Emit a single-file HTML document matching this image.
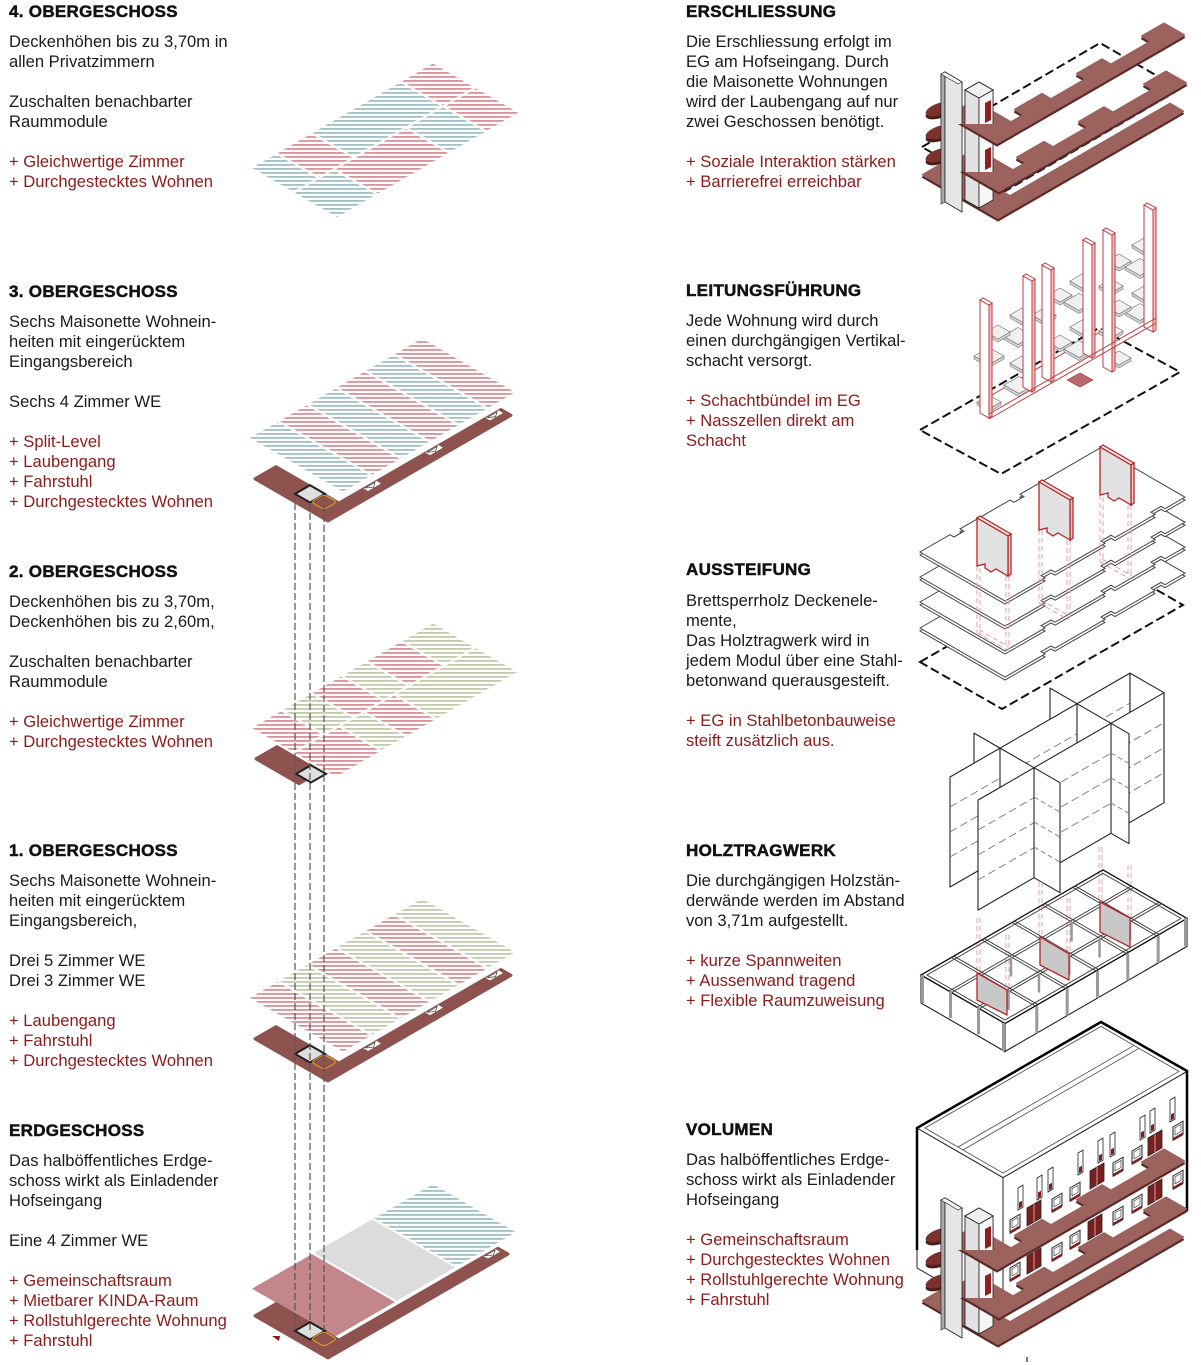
<!DOCTYPE html>
<html><head><meta charset="utf-8">
<style>
html,body{margin:0;padding:0;background:#fff}
#w{position:relative;width:1201px;height:1365px;overflow:hidden;background:#fff}
svg{position:absolute;left:0;top:0}
svg *{vector-effect:non-scaling-stroke}
.t{position:absolute;font-family:"Liberation Sans",Arial,sans-serif;font-size:16.6px;line-height:20px;color:#1a1a1a;white-space:nowrap}
.h{position:absolute;font-family:"Liberation Sans",Arial,sans-serif;font-weight:bold;font-size:17px;line-height:20px;letter-spacing:0.3px;color:#111;white-space:nowrap;-webkit-text-stroke:0.5px #111}
.r{color:#8b1a1a}
</style></head>
<body><div id="w">
<svg width="1201" height="1365" viewBox="0 0 1201 1365" xmlns="http://www.w3.org/2000/svg">
<defs>
<pattern id="pr" width="4" height="4" patternUnits="userSpaceOnUse" patternTransform="matrix(0.5,0.5,-0.866,0.866,0,0)"><rect width="4" height="1.9" fill="#d8949a"/></pattern>
<pattern id="pb" width="4" height="4" patternUnits="userSpaceOnUse" patternTransform="matrix(0.5,0.5,-0.866,0.866,0,0)"><rect width="4" height="1.9" fill="#a3c1c5"/></pattern>
<pattern id="pg" width="4" height="4" patternUnits="userSpaceOnUse" patternTransform="matrix(0.5,0.5,-0.866,0.866,0,0)"><rect width="4" height="1.9" fill="#c3cbae"/></pattern>

<g id="cor">
 <polygon points="0,0 183,0 183,-10 21,-10 21,-73 0,-73" fill="#8e524f" stroke="#8e524f" stroke-width="3" stroke-linejoin="round"/>
 <rect x="46" y="-10.5" width="13" height="4.5" fill="#fff"/>
 <polygon points="47,-10 52,-6.5 57,-10" fill="#fff" stroke="#333" stroke-width=".7"/>
 <rect x="108" y="-10.5" width="13" height="4.5" fill="#fff"/>
 <polygon points="109,-10 114,-6.5 119,-10" fill="#fff" stroke="#333" stroke-width=".7"/>
 <rect x="168" y="-10.5" width="13" height="4.5" fill="#fff"/>
 <polygon points="169,-10 174,-6.5 179,-10" fill="#fff" stroke="#333" stroke-width=".7"/>
 <rect x="7" y="-40" width="15" height="15" fill="#dedede" stroke="#222" stroke-width="2"/>
 <rect x="8" y="-25" width="13" height="13" rx="3" fill="none" stroke="#d39a2c" stroke-width="1.2"/>
</g>

<polygon id="jog" points="0,0 187,0 187,-20 165,-20 165,-11 125,-11 125,-20 100,-20 100,-11 65,-11 65,-20 38,-20 38,-11 25,-11 25,-48 0,-48"/>
<polygon id="bsl" points="0,0 185,0 185,-13 25,-13 25,-75 0,-75"/>

<g id="tw">
 <polygon points="941,74 945,72 945,202 941,204" fill="#aaa" stroke="#222" stroke-width=".6"/>
 <polygon points="945,72 962,82 962,212 945,202" fill="#e6e6e6" stroke="#222" stroke-width=".8"/>
 <polygon points="941,74 945,72 962,82 958,84" fill="#f5f5f5" stroke="#222" stroke-width=".6"/>
 <polygon points="965,90 979,98 979,208 965,200" fill="#e2e2e2" stroke="#222" stroke-width=".8"/>
 <polygon points="979,98 993,90 993,200 979,208" fill="#f6f6f6" stroke="#222" stroke-width=".8"/>
 <polygon points="965,90 979,82 993,90 979,98" fill="#f0f0f0" stroke="#222" stroke-width=".8"/>
 <polygon points="985,103 991,100 991,120 985,123" fill="#8b2020"/>
 <polygon points="985,150 991,147 991,167 985,170" fill="#8b2020"/>
</g>
<clipPath id="ca"><rect x="900" y="0" width="120" height="124"/></clipPath>
<clipPath id="cb"><rect x="900" y="0" width="120" height="172"/></clipPath>

<g id="ersch">
 <g>
  <ellipse cx="940" cy="112" rx="15" ry="6" transform="rotate(-18 940 112)" fill="#4d1b19"/>
  <ellipse cx="940" cy="109" rx="15" ry="6" transform="rotate(-18 940 109)" fill="#7b312e"/>
  <ellipse cx="940" cy="135" rx="15" ry="6" transform="rotate(-18 940 135)" fill="#4d1b19"/>
  <ellipse cx="940" cy="132" rx="15" ry="6" transform="rotate(-18 940 132)" fill="#7b312e"/>
  <ellipse cx="940" cy="158" rx="15" ry="6" transform="rotate(-18 940 158)" fill="#4d1b19"/>
  <ellipse cx="940" cy="155" rx="15" ry="6" transform="rotate(-18 940 155)" fill="#7b312e"/>
 </g>
 <g transform="translate(0,2.5)"><use href="#bsl" transform="matrix(1,-0.5774,1,0.5774,998,218)" fill="#5c2a27" stroke="#5c2a27" stroke-width="2" stroke-linejoin="round"/></g>
 <use href="#bsl" transform="matrix(1,-0.5774,1,0.5774,998,218)" fill="#9b625e" stroke="#9b625e" stroke-width="2" stroke-linejoin="round"/>
 <use href="#tw"/>
 <g transform="translate(0,2.5)"><use href="#jog" transform="matrix(1,-0.5774,1,0.5774,999,191)" fill="#5c2a27" stroke="#5c2a27" stroke-width="2" stroke-linejoin="round"/></g>
 <use href="#jog" transform="matrix(1,-0.5774,1,0.5774,999,191)" fill="#9b625e" stroke="#9b625e" stroke-width="2" stroke-linejoin="round"/>
 <use href="#tw" clip-path="url(#cb)"/>
 <g transform="translate(0,2.5)"><use href="#jog" transform="matrix(1,-0.5774,1,0.5774,997,143)" fill="#5c2a27" stroke="#5c2a27" stroke-width="2" stroke-linejoin="round"/></g>
 <use href="#jog" transform="matrix(1,-0.5774,1,0.5774,997,143)" fill="#9b625e" stroke="#9b625e" stroke-width="2" stroke-linejoin="round"/>
 <use href="#tw" clip-path="url(#ca)"/>
</g>

<polygon id="slabp" points="0,0 30,0 30,4 40,4 40,0 90,0 90,4 100,4 100,0 180,0 180,85 160,85 160,81 150,81 150,85 110,85 110,81 100,81 100,85 50,85 50,81 40,81 40,85 0,85"/>
<g id="slabA">
 <g transform="translate(0,3)"><use href="#slabp" transform="matrix(1,-0.5774,1,0.5774,920,552)" fill="#fff" stroke="#444" stroke-width="1"/></g>
 <use href="#slabp" transform="matrix(1,-0.5774,1,0.5774,920,552)" fill="#fff" stroke="#444" stroke-width="1"/>
</g>

<g id="gs"><polygon points="-12,0 -12,3 0,10 12,3 12,0 0,7" fill="#d4d4d4" stroke="#777" stroke-width=".6"/><polygon points="-12,0 0,-7 12,0 0,7" fill="#f0f0f0" stroke="#777" stroke-width=".7"/></g>
<g id="gsb"><polygon points="-15,0 -15,3 0,11.5 15,3 15,0 0,8.5" fill="#d4d4d4" stroke="#777" stroke-width=".6"/><polygon points="-15,0 0,-8.5 15,0 0,8.5" fill="#f0f0f0" stroke="#777" stroke-width=".7"/></g>

<g id="wt"><rect width="5" height="22" fill="#fff" stroke="#222" stroke-width=".8"/><rect x="1" y="15" width="3" height="6" fill="#7a1f1f"/></g>
<g id="ws"><rect width="10" height="13" fill="#fff" stroke="#222" stroke-width="1"/><rect x="2" y="2" width="6" height="7" fill="none" stroke="#222" stroke-width=".6"/><rect x="0" y="11" width="10" height="3" fill="#7a1f1f"/></g>
<g id="wd"><rect width="14" height="18" fill="#7a1f1f" stroke="#222" stroke-width=".8"/><line x1="7" y1="0" x2="7" y2="18" stroke="#fff" stroke-width=".6"/></g>
</defs>

<!-- 4.OG -->
<g transform="matrix(1,-0.5774,1,0.5774,252,168)">
 <rect x="0" y="0" width="24" height="41" fill="url(#pb)"/>
 <rect x="26" y="0" width="33" height="41" fill="url(#pr)"/>
 <rect x="61" y="0" width="87" height="41" fill="url(#pb)"/>
 <rect x="150" y="0" width="31" height="41" fill="url(#pr)"/>
 <rect x="0" y="43" width="39" height="42" fill="url(#pb)"/>
 <rect x="41" y="43" width="70" height="42" fill="url(#pr)"/>
 <rect x="113" y="43" width="35" height="42" fill="url(#pb)"/>
 <rect x="150" y="43" width="31" height="42" fill="url(#pr)"/>
</g>

<!-- 3.OG -->
<g transform="matrix(1,-0.5774,1,0.5774,328,521)">
 <rect x="33" y="-111" width="27.5" height="93" fill="url(#pb)"/>
 <rect x="62.5" y="-111" width="27" height="93" fill="url(#pr)"/>
 <rect x="91.5" y="-111" width="27" height="93" fill="url(#pb)"/>
 <rect x="120.5" y="-111" width="27" height="93" fill="url(#pr)"/>
 <rect x="149.5" y="-111" width="27" height="93" fill="url(#pb)"/>
 <rect x="178.5" y="-111" width="26.5" height="93" fill="url(#pr)"/>
 <use href="#cor"/>
</g>

<!-- 2.OG -->
<g transform="matrix(1,-0.5774,1,0.5774,252,728)">
 <rect x="0" y="0" width="29" height="41" fill="url(#pr)"/>
 <rect x="31" y="0" width="28" height="41" fill="url(#pg)"/>
 <rect x="61" y="0" width="28" height="41" fill="url(#pr)"/>
 <rect x="91" y="0" width="23" height="41" fill="url(#pg)"/>
 <rect x="116" y="0" width="33" height="41" fill="url(#pr)"/>
 <rect x="151" y="0" width="30" height="41" fill="url(#pg)"/>
 <rect x="0" y="43" width="44" height="41" fill="url(#pr)"/>
 <rect x="46" y="43" width="23" height="41" fill="url(#pg)"/>
 <rect x="71" y="43" width="28" height="41" fill="url(#pr)"/>
 <rect x="101" y="43" width="80" height="41" fill="url(#pg)"/>
</g>
<g transform="matrix(1,-0.5774,1,0.5774,329,801)">
 <polygon points="0,-30 21,-30 21,-73 0,-73" fill="#8e524f" stroke="#8e524f" stroke-width="3" stroke-linejoin="round"/>
 <rect x="7" y="-40" width="15" height="15" fill="#dedede" stroke="#222" stroke-width="2"/>
</g>

<!-- 1.OG -->
<g transform="matrix(1,-0.5774,1,0.5774,328,1081)">
 <rect x="33" y="-111" width="27.5" height="93" fill="url(#pr)"/>
 <rect x="62.5" y="-111" width="27" height="93" fill="url(#pg)"/>
 <rect x="91.5" y="-111" width="27" height="93" fill="url(#pr)"/>
 <rect x="120.5" y="-111" width="27" height="93" fill="url(#pg)"/>
 <rect x="149.5" y="-111" width="27" height="93" fill="url(#pr)"/>
 <rect x="178.5" y="-111" width="26.5" height="93" fill="url(#pg)"/>
 <use href="#cor"/>
</g>

<!-- EG -->
<g transform="matrix(1,-0.5774,1,0.5774,328,1358)">
 <rect x="22" y="-98" width="60" height="83" fill="#c3868a"/>
 <rect x="84" y="-98" width="58" height="83" fill="#dcdcdc"/>
 <rect x="144" y="-98" width="59" height="83" fill="url(#pb)"/>
 <polygon points="0,0 180,0 180,-10 21,-10 21,-73 0,-73" fill="#8e524f" stroke="#8e524f" stroke-width="3" stroke-linejoin="round"/>
 <rect x="166" y="-10.5" width="12" height="4.5" fill="#fff"/>
 <polygon points="167,-10 172,-6.5 177,-10" fill="#fff" stroke="#333" stroke-width=".7"/>
 <rect x="7" y="-40" width="15" height="15" fill="#dedede" stroke="#222" stroke-width="2"/>
 <rect x="8" y="-25" width="13" height="13" rx="3" fill="none" stroke="#d39a2c" stroke-width="1.2"/>
</g>
<polygon points="272,1336 280,1336 279,1341" fill="#8b1a1a"/>

<g stroke="#555" stroke-width="1.2" stroke-dasharray="7 3" fill="none">
 <line x1="295" y1="503" x2="295" y2="1330"/>
 <line x1="310" y1="503" x2="310" y2="1330"/>
 <line x1="324" y1="505" x2="324" y2="1330"/>
</g>

<!-- ERSCHLIESSUNG -->
<polygon points="922,147 1100,43 1180,89 1002,193" fill="none" stroke="#111" stroke-width="2" stroke-dasharray="9 4"/>
<use href="#ersch"/>

<!-- LEITUNGSFUEHRUNG -->
<polygon points="920,430 1099,328 1180,372 1001,474" fill="none" stroke="#111" stroke-width="2" stroke-dasharray="9 4"/>
<polygon points="1067,380 1080,373 1093,380 1080,387" fill="#b86a6a" stroke="#a03030" stroke-width=".6"/>
<line x1="992" y1="395" x2="1100" y2="332" stroke="#c0393c" stroke-width="1"/>
<use href="#gs" transform="translate(1022,315)"/>
<use href="#gsb" transform="translate(1018,336)"/>
<use href="#gs" transform="translate(998,332)"/>
<use href="#gsb" transform="translate(989,356)"/>
<use href="#gs" transform="translate(1022,363)"/>
<use href="#gsb" transform="translate(1019,385)"/>
<use href="#gs" transform="translate(989,402)"/>
<use href="#gs" transform="translate(1044,315)"/>
<use href="#gs" transform="translate(1060,295)"/>
<use href="#gsb" transform="translate(1079,302)"/>
<use href="#gs" transform="translate(1082,281)"/>
<use href="#gs" transform="translate(1082,327)"/>
<use href="#gs" transform="translate(1060,342)"/>
<use href="#gsb" transform="translate(1079,349)"/>
<use href="#gs" transform="translate(1111,286)"/>
<use href="#gs" transform="translate(1119,261)"/>
<use href="#gsb" transform="translate(1140,267)"/>
<use href="#gs" transform="translate(1144,245)"/>
<use href="#gs" transform="translate(1144,293)"/>
<use href="#gsb" transform="translate(1140,312)"/>
<use href="#gs" transform="translate(1119,307)"/>
<use href="#gs" transform="translate(1111,331)"/>
<use href="#gs" transform="translate(1119,358)"/>
<g stroke="#c0393c" stroke-width="1">
 <polygon points="980,300 989,305 989,418 980,413" fill="#fff"/>
 <polygon points="989,305 992,303 992,416 989,418" fill="#f0c4c4"/>
 <polygon points="980,300 983,298 992,303 989,305" fill="#fff"/>
 <polygon points="1023,276 1032,281 1032,392 1023,387" fill="#fff"/>
 <polygon points="1032,281 1035,279 1035,390 1032,392" fill="#f0c4c4"/>
 <polygon points="1023,276 1026,274 1035,279 1032,281" fill="#fff"/>
 <polygon points="1042,265 1051,270 1051,382 1042,377" fill="#fff"/>
 <polygon points="1051,270 1054,268 1054,380 1051,382" fill="#f0c4c4"/>
 <polygon points="1042,265 1045,263 1054,268 1051,270" fill="#fff"/>
 <polygon points="1083,240 1092,245 1092,358 1083,353" fill="#fff"/>
 <polygon points="1092,245 1095,243 1095,356 1092,358" fill="#f0c4c4"/>
 <polygon points="1083,240 1086,238 1095,243 1092,245" fill="#fff"/>
 <polygon points="1103,230 1112,235 1112,372 1103,367" fill="#fff"/>
 <polygon points="1112,235 1115,233 1115,370 1112,372" fill="#f0c4c4"/>
 <polygon points="1103,230 1106,228 1115,233 1112,235" fill="#fff"/>
 <polygon points="1144,205 1153,210 1153,332 1144,327" fill="#fff"/>
 <polygon points="1153,210 1156,208 1156,330 1153,332" fill="#f0c4c4"/>
 <polygon points="1144,205 1147,203 1156,208 1153,210" fill="#fff"/>
 <line x1="989" y1="414" x2="1156" y2="318"/>
 <line x1="989" y1="419" x2="1156" y2="323"/>
</g>

<!-- AUSSTEIFUNG -->
<polygon points="920,662 1101,558 1183,605 1002,709" fill="none" stroke="#111" stroke-width="2" stroke-dasharray="9 4"/>
<use href="#slabA" transform="translate(0,76)"/>
<use href="#slabA" transform="translate(0,50)"/>
<use href="#slabA" transform="translate(0,25)"/>
<use href="#slabA"/>
<g stroke="#e2a0a4" stroke-width="1" stroke-dasharray="5 3" fill="none">
 <line x1="977" y1="566" x2="977" y2="633"/><line x1="980" y1="568" x2="980" y2="634"/>
 <line x1="1006" y1="576" x2="1006" y2="650"/><line x1="1009" y1="576" x2="1009" y2="650"/>
 <line x1="977" y1="633" x2="1007" y2="650"/><line x1="979" y1="630" x2="1009" y2="647"/>
 <line x1="1039" y1="530" x2="1039" y2="603"/><line x1="1042" y1="530" x2="1042" y2="604"/>
 <line x1="1067" y1="540" x2="1067" y2="613"/><line x1="1070" y1="540" x2="1070" y2="613"/>
 <line x1="1039" y1="603" x2="1069" y2="620"/><line x1="1041" y1="600" x2="1071" y2="617"/>
 <line x1="1100" y1="495" x2="1100" y2="562"/><line x1="1103" y1="497" x2="1103" y2="563"/>
 <line x1="1128" y1="505" x2="1128" y2="577"/><line x1="1131" y1="505" x2="1131" y2="577"/>
 <line x1="1100" y1="562" x2="1130" y2="579"/><line x1="1102" y1="559" x2="1132" y2="576"/>
</g>
<g stroke="#b3262a" stroke-width="1.3">
 <polygon points="977,518 980,516 1011,534 1008,536" fill="#f7e4e4"/>
 <polygon points="1008,536 1011,534 1011,574 1008,576" fill="#f2d0d0"/>
 <polygon points="977,518 1008,536 1008,576 996,569 991,572 985,568 985,564 977,566" fill="#e2e2e2"/>
 <polygon points="1039,482 1042,480 1073,498 1070,500" fill="#f7e4e4"/>
 <polygon points="1070,500 1073,498 1073,538 1070,540" fill="#f2d0d0"/>
 <polygon points="1039,482 1070,500 1070,540 1058,533 1053,536 1047,532 1047,528 1039,530" fill="#e2e2e2"/>
 <polygon points="1100,447 1103,445 1134,463 1131,465" fill="#f7e4e4"/>
 <polygon points="1131,465 1134,463 1134,503 1131,505" fill="#f2d0d0"/>
 <polygon points="1100,447 1131,465 1131,505 1119,498 1114,501 1108,497 1108,493 1100,495" fill="#e2e2e2"/>
</g>

<!-- HOLZTRAGWERK walls -->
<g fill="#fff" stroke="#222" stroke-width="1.1" stroke-linejoin="round">
 <polygon points="1050,688.1 1077,703.7 1077,813.7 1050,798.1"/>
 <polygon points="974,733.1 1000,748.1 1000,858.1 974,843.1"/>
 <polygon points="950,777 1130,673.1 1130,783.1 950,887"/>
 <g fill="none" stroke="#777" stroke-width=".9" stroke-dasharray="8 4">
  <line x1="950" y1="807" x2="1130" y2="703.1"/><line x1="950" y1="832" x2="1130" y2="728.1"/><line x1="950" y1="857" x2="1130" y2="753.1"/>
 </g>
 <polygon points="1130,673.1 1164,692.7 1164,802.7 1130,783.1"/>
 <polygon points="1077,703.7 1111,723.3 1111,833.3 1077,813.7"/>
 <polygon points="1000,748.1 1034,767.7 1034,877.7 1000,858.1"/>
 <polygon points="978,800.1 1164,692.7 1164,802.7 978,910.1"/>
 <g fill="none" stroke="#777" stroke-width=".9" stroke-dasharray="8 4">
  <line x1="978" y1="830" x2="1164" y2="722.7"/><line x1="978" y1="855" x2="1164" y2="747.7"/><line x1="978" y1="880" x2="1164" y2="772.7"/>
 </g>
 <polygon points="1111,723.3 1129,733.7 1129,843.7 1111,833.3"/>
 <polygon points="1034,767.7 1060,782.7 1060,892.7 1034,877.7"/>
 <g fill="none" stroke="#777" stroke-width=".9" stroke-dasharray="5 3">
  <line x1="1034" y1="797" x2="1060" y2="812"/><line x1="1034" y1="822" x2="1060" y2="837"/><line x1="1034" y1="847" x2="1060" y2="862"/>
  <line x1="1111" y1="753" x2="1129" y2="763.4"/><line x1="1111" y1="778" x2="1129" y2="788.4"/><line x1="1111" y1="803" x2="1129" y2="813.4"/>
 </g>
</g>

<g stroke="#e2a0a4" stroke-width="1" stroke-dasharray="5 3" fill="none">
 <line x1="977" y1="918" x2="977" y2="973"/><line x1="980" y1="918" x2="980" y2="974"/>
 <line x1="1006" y1="935" x2="1006" y2="990"/><line x1="1009" y1="935" x2="1009" y2="990"/>
 <line x1="1039" y1="882" x2="1039" y2="937"/><line x1="1042" y1="882" x2="1042" y2="938"/>
 <line x1="1067" y1="898" x2="1067" y2="954"/><line x1="1070" y1="898" x2="1070" y2="954"/>
 <line x1="1099" y1="847" x2="1099" y2="902"/><line x1="1102" y1="847" x2="1102" y2="903"/>
 <line x1="1128" y1="865" x2="1128" y2="918"/><line x1="1131" y1="865" x2="1131" y2="918"/>
</g>

<!-- HOLZ tray -->
<polygon points="921,975 1005,1023.5 1005,1051.5 921,1003" fill="#fff" stroke="#222" stroke-width="1.1"/>
<polygon points="1005,1023.5 1187,918.4 1187,946.4 1005,1051.5" fill="#fff" stroke="#222" stroke-width="1.1"/>
<g transform="matrix(1,-0.5774,1,0.5774,921,975)" fill="none" stroke="#333" stroke-width=".9">
 <rect x="0" y="0" width="182" height="84" stroke-width="1.3" stroke="#111"/>
 <rect x="3" y="3" width="176" height="78"/>
 <line x1="0" y1="28" x2="182" y2="28"/><line x1="0" y1="30.5" x2="182" y2="30.5"/>
 <line x1="0" y1="56" x2="182" y2="56"/><line x1="0" y1="58.5" x2="182" y2="58.5"/>
 <line x1="30.3" y1="0" x2="30.3" y2="84"/><line x1="32.8" y1="0" x2="32.8" y2="84"/>
 <line x1="60.7" y1="0" x2="60.7" y2="84"/><line x1="63.2" y1="0" x2="63.2" y2="84"/>
 <line x1="91" y1="0" x2="91" y2="84"/><line x1="93.5" y1="0" x2="93.5" y2="84"/>
 <line x1="121.3" y1="0" x2="121.3" y2="84"/><line x1="123.8" y1="0" x2="123.8" y2="84"/>
 <line x1="151.7" y1="0" x2="151.7" y2="84"/><line x1="154.2" y1="0" x2="154.2" y2="84"/>
</g>
<g fill="#9a9a9a">
 <rect x="979.3" y="974" width="2.5" height="20"/><rect x="1009.7" y="956.5" width="2.5" height="20"/><rect x="1040" y="939" width="2.5" height="20"/><rect x="1070.3" y="921.5" width="2.5" height="20"/><rect x="1100.7" y="904" width="2.5" height="20"/>
 <rect x="1007.3" y="990" width="2.5" height="20"/><rect x="1037.7" y="972.5" width="2.5" height="20"/><rect x="1068" y="955" width="2.5" height="20"/><rect x="1098.3" y="937.5" width="2.5" height="20"/><rect x="1128.7" y="920" width="2.5" height="20"/>
 <rect x="1035.3" y="1006" width="3" height="27"/><rect x="1065.7" y="988.5" width="3" height="27"/><rect x="1096" y="971" width="3" height="27"/><rect x="1126.3" y="953.5" width="3" height="27"/><rect x="1156.7" y="936" width="3" height="27"/>
 <rect x="1002" y="1023" width="3" height="28"/><rect x="1184" y="918" width="3" height="28"/>
 <rect x="949" y="991.2" width="3" height="27"/><rect x="977" y="1007.3" width="3" height="27"/><rect x="921" y="975" width="3" height="28"/>
</g>
<g stroke="#b3262a" stroke-width="1.3" fill="#c8c8c8">
 <polygon points="977,973 1007,990 1007,1015 977,1000"/>
 <polygon points="1040,937 1069,954 1069,980 1040,965"/>
 <polygon points="1100,902 1130,918 1130,947 1100,932"/>
</g>

<!-- VOLUMEN -->
<polygon points="917,1128 1003,1177.6 1003,1317.6 917,1268" fill="#fff" stroke="#222" stroke-width="1"/>
<polygon points="1003,1177.6 1187,1071.4 1187,1211.4 1003,1317.6" fill="#fff" stroke="#222" stroke-width="1"/>
<polygon points="917,1128 1101,1021.8 1187,1071.4 1003,1177.6" fill="#fff" stroke="#222" stroke-width="1"/>
<g transform="matrix(1,-0.5774,1,0.5774,917,1128)" fill="none" stroke="#444" stroke-width=".8">
 <rect x="4" y="4" width="176" height="78"/>
 <line x1="4" y1="37" x2="180" y2="37"/>
 <line x1="4" y1="42" x2="180" y2="42"/>
</g>
<polyline points="917,1250 917,1128 1101,1022 1187,1071 1187,1211" fill="none" stroke="#000" stroke-width="2.5"/>
<use href="#wt" transform="translate(1018,1188) skewY(-30)"/>
<use href="#wt" transform="translate(1037,1178) skewY(-30)"/>
<use href="#wt" transform="translate(1048,1170) skewY(-30)"/>
<use href="#wt" transform="translate(1078,1153) skewY(-30)"/>
<use href="#wt" transform="translate(1098,1141) skewY(-30)"/>
<use href="#wt" transform="translate(1110,1135) skewY(-30)"/>
<use href="#wt" transform="translate(1140,1118) skewY(-30)"/>
<use href="#wt" transform="translate(1150,1111) skewY(-30)"/>
<use href="#wt" transform="translate(1170,1100) skewY(-30)"/>
<use href="#ws" transform="translate(1010,1220) skewY(-30)"/>
<use href="#ws" transform="translate(1052,1199) skewY(-30)"/>
<use href="#ws" transform="translate(1070,1188) skewY(-30)"/>
<use href="#ws" transform="translate(1113,1163) skewY(-30)"/>
<use href="#ws" transform="translate(1132,1151) skewY(-30)"/>
<use href="#ws" transform="translate(1173,1127) skewY(-30)"/>
<use href="#ws" transform="translate(1010,1268) skewY(-30)"/>
<use href="#ws" transform="translate(1052,1248) skewY(-30)"/>
<use href="#ws" transform="translate(1070,1236) skewY(-30)"/>
<use href="#ws" transform="translate(1113,1212) skewY(-30)"/>
<use href="#ws" transform="translate(1132,1200) skewY(-30)"/>
<use href="#ws" transform="translate(1173,1176) skewY(-30)"/>
<use href="#wd" transform="translate(1027,1208) skewY(-30)"/>
<use href="#wd" transform="translate(1090,1171) skewY(-30)"/>
<use href="#wd" transform="translate(1148,1138) skewY(-30)"/>
<use href="#wd" transform="translate(1027,1256) skewY(-30)"/>
<use href="#wd" transform="translate(1088,1222) skewY(-30)"/>
<use href="#wd" transform="translate(1148,1187) skewY(-30)"/>
<use href="#ersch" transform="translate(0,1126)"/>
<line x1="1027" y1="1357" x2="1027" y2="1362" stroke="#222" stroke-width="1.2"/>
</svg>

<div class="h" style="left:9px;top:1.7px">4. OBERGESCHOSS</div>
<div class="t" style="left:9px;top:32.2px">Deckenhöhen bis zu 3,70m in<br>allen Privatzimmern<br><br>Zuschalten benachbarter<br>Raummodule<br><br><span class="r">+ Gleichwertige Zimmer<br>+ Durchgestecktes Wohnen</span></div>

<div class="h" style="left:9px;top:281.5px">3. OBERGESCHOSS</div>
<div class="t" style="left:9px;top:312px">Sechs Maisonette Wohnein-<br>heiten mit eingerücktem<br>Eingangsbereich<br><br>Sechs 4 Zimmer WE<br><br><span class="r">+ Split-Level<br>+ Laubengang<br>+ Fahrstuhl<br>+ Durchgestecktes Wohnen</span></div>

<div class="h" style="left:9px;top:561.5px">2. OBERGESCHOSS</div>
<div class="t" style="left:9px;top:592px">Deckenhöhen bis zu 3,70m,<br>Deckenhöhen bis zu 2,60m,<br><br>Zuschalten benachbarter<br>Raummodule<br><br><span class="r">+ Gleichwertige Zimmer<br>+ Durchgestecktes Wohnen</span></div>

<div class="h" style="left:9px;top:840.5px">1. OBERGESCHOSS</div>
<div class="t" style="left:9px;top:871px">Sechs Maisonette Wohnein-<br>heiten mit eingerücktem<br>Eingangsbereich,<br><br>Drei 5 Zimmer WE<br>Drei 3 Zimmer WE<br><br><span class="r">+ Laubengang<br>+ Fahrstuhl<br>+ Durchgestecktes Wohnen</span></div>

<div class="h" style="left:9px;top:1120.5px">ERDGESCHOSS</div>
<div class="t" style="left:9px;top:1151px">Das halböffentliches Erdge-<br>schoss wirkt als Einladender<br>Hofseingang<br><br>Eine 4 Zimmer WE<br><br><span class="r">+ Gemeinschaftsraum<br>+ Mietbarer KINDA-Raum<br>+ Rollstuhlgerechte Wohnung<br>+ Fahrstuhl</span></div>

<div class="h" style="left:686px;top:1.7px">ERSCHLIESSUNG</div>
<div class="t" style="left:686px;top:32.2px">Die Erschliessung erfolgt im<br>EG am Hofseingang. Durch<br>die Maisonette Wohnungen<br>wird der Laubengang auf nur<br>zwei Geschossen benötigt.<br><br><span class="r">+ Soziale Interaktion stärken<br>+ Barrierefrei erreichbar</span></div>

<div class="h" style="left:686px;top:280.5px">LEITUNGSFÜHRUNG</div>
<div class="t" style="left:686px;top:311px">Jede Wohnung wird durch<br>einen durchgängigen Vertikal-<br>schacht versorgt.<br><br><span class="r">+ Schachtbündel im EG<br>+ Nasszellen direkt am<br>Schacht</span></div>

<div class="h" style="left:686px;top:560px">AUSSTEIFUNG</div>
<div class="t" style="left:686px;top:591px">Brettsperrholz Deckenele-<br>mente,<br>Das Holztragwerk wird in<br>jedem Modul über eine Stahl-<br>betonwand querausgesteift.<br><br><span class="r">+ EG in Stahlbetonbauweise<br>steift zusätzlich aus.</span></div>

<div class="h" style="left:686px;top:840.5px">HOLZTRAGWERK</div>
<div class="t" style="left:686px;top:871px">Die durchgängigen Holzstän-<br>derwände werden im Abstand<br>von 3,71m aufgestellt.<br><br><span class="r">+ kurze Spannweiten<br>+ Aussenwand tragend<br>+ Flexible Raumzuweisung</span></div>

<div class="h" style="left:686px;top:1119.5px">VOLUMEN</div>
<div class="t" style="left:686px;top:1150px">Das halböffentliches Erdge-<br>schoss wirkt als Einladender<br>Hofseingang<br><br><span class="r">+ Gemeinschaftsraum<br>+ Durchgestecktes Wohnen<br>+ Rollstuhlgerechte Wohnung<br>+ Fahrstuhl</span></div>
</div></body></html>
